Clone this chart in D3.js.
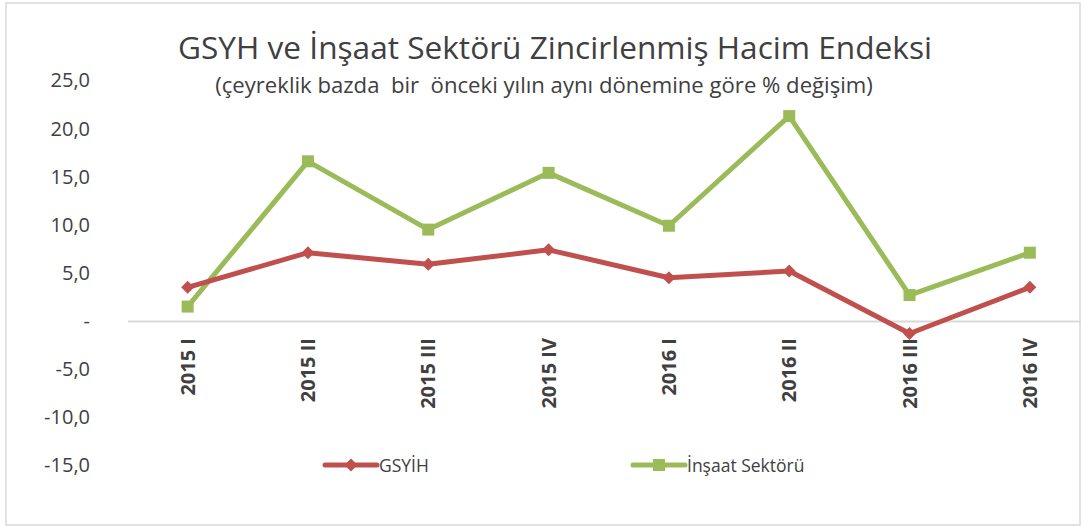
<!DOCTYPE html>
<html>
<head>
<meta charset="utf-8">
<script src="https://cdn.jsdelivr.net/npm/d3@7"></script>
<style>
  html, body { margin: 0; padding: 0; background: #ffffff; }
  svg { display: block; font-family: "Open Sans", "Noto Sans", sans-serif; }
</style>
</head>
<body>
<div id="chart"></div>
<script>
// Data
const quarters = ["2015 I", "2015 II", "2015 III", "2015 IV", "2016 I", "2016 II", "2016 III", "2016 IV"];
const gsyhValues = [3.5, 7.1, 5.9, 7.4, 4.5, 5.2, -1.3, 3.5];
const insaatValues = [1.5, 16.6, 9.5, 15.4, 9.9, 21.3, 2.7, 7.1];
const yTicks = [-15, -10, -5, 0, 5, 10, 15, 20, 25];
const seriesNames = ["GSYİH", "İnşaat Sektörü"];

const width = 1081;
const height = 526;
const textColor = "#404040";
const redColor = "#c0504d";
const greenColor = "#9bbb59";

const svg = d3.select("#chart")
    .append("svg")
    .attr("width", width)
    .attr("height", height);

// Chart border
svg.append("rect")
    .attr("x", 6)
    .attr("y", 3)
    .attr("width", 1074)
    .attr("height", 522)
    .attr("fill", "#ffffff")
    .attr("stroke", "#d9d9d9")
    .attr("stroke-width", 1.5);

// Scales
const xScale = d3.scaleBand()
    .domain(quarters)
    .range([127.5, 1090])
    .padding(0);

const yScale = d3.scaleLinear()
    .domain([-15, 25])
    .range([465.3, 80.5]);

const xPos = d => xScale(d) + xScale.bandwidth() / 2;
const fmt = v => v === 0 ? "-" : v.toFixed(1).replace(".", ",");

// shrink / grow a text so it fills the width seen in the picture
const fitText = (sel, target) => {
    const size = parseFloat(sel.style("font-size"));
    const len = sel.node().getComputedTextLength();
    sel.style("font-size", (size * target / len) + "px");
};

// Title
const title = svg.append("text")
    .attr("x", 555)
    .attr("y", 59)
    .attr("text-anchor", "middle")
    .style("font-size", "34px")
    .style("fill", textColor)
    .text("GSYH ve İnşaat Sektörü Zincirlenmiş Hacim Endeksi");
fitText(title, 754);

const subtitle = svg.append("text")
    .attr("x", 544)
    .attr("y", 93)
    .attr("text-anchor", "middle")
    .style("font-size", "20px")
    .style("white-space", "pre")
    .style("fill", textColor)
    .text("(çeyreklik bazda  bir  önceki yılın aynı dönemine göre % değişim)");
fitText(subtitle, 658);

// Y axis (labels only)
const yAxis = svg.append("g")
    .attr("transform", "translate(90,0)")
    .call(d3.axisLeft(yScale).tickValues(yTicks).tickSize(0).tickPadding(0).tickFormat(fmt));
yAxis.select(".domain").remove();
yAxis.selectAll("text")
    .style("font-family", "\"Open Sans\", sans-serif")
    .style("font-size", "20px")
    .style("fill", textColor);

// X axis along zero
const xAxis = svg.append("g")
    .attr("transform", `translate(0,${yScale(0)})`)
    .call(d3.axisBottom(xScale).tickSize(0));
xAxis.select(".domain")
    .attr("stroke", "#d9d9d9")
    .attr("stroke-width", 2);
xAxis.selectAll("text")
    .attr("transform", "rotate(-90)")
    .attr("x", -17)
    .attr("y", 0)
    .attr("dy", "0.36em")
    .attr("text-anchor", "end")
    .style("font-family", "\"Open Sans\", sans-serif")
    .style("font-size", "20px")
    .style("font-weight", "bold")
    .style("fill", textColor);

// Lines
const line = d3.line()
    .x((d, i) => xPos(quarters[i]))
    .y(d => yScale(d));

const diamond = "M0,-6.5L6.5,0L0,6.5L-6.5,0Z";

const drawSeries = (values, color, marker) => {
    svg.append("path")
        .datum(values)
        .attr("fill", "none")
        .attr("stroke", color)
        .attr("stroke-width", 5)
        .attr("stroke-linejoin", "round")
        .attr("stroke-linecap", "round")
        .attr("d", line);

    const pts = svg.append("g")
        .selectAll("g")
        .data(values)
        .join("g")
        .attr("transform", (d, i) => `translate(${xPos(quarters[i])},${yScale(d)})`);

    if (marker === "diamond") {
        pts.append("path").attr("d", diamond).attr("fill", color);
    } else {
        pts.append("rect")
            .attr("x", -6).attr("y", -6)
            .attr("width", 12).attr("height", 12)
            .attr("fill", color);
    }
};

drawSeries(insaatValues, greenColor, "square");
drawSeries(gsyhValues, redColor, "diamond");

// Legend
const legendItems = [
    { name: seriesNames[0], color: redColor, marker: "diamond", x: 325 },
    { name: seriesNames[1], color: greenColor, marker: "square", x: 633 }
];

legendItems.forEach(item => {
    const g = svg.append("g").attr("transform", `translate(${item.x},465)`);
    g.append("line")
        .attr("x1", 0).attr("x2", 52)
        .attr("y1", 0).attr("y2", 0)
        .attr("stroke", item.color)
        .attr("stroke-width", 5)
        .attr("stroke-linecap", "round");
    if (item.marker === "diamond") {
        g.append("path").attr("d", diamond).attr("transform", "translate(26,0)").attr("fill", item.color);
    } else {
        g.append("rect").attr("x", 20).attr("y", -6).attr("width", 12).attr("height", 12).attr("fill", item.color);
    }
    g.append("text")
        .attr("x", 54)
        .attr("y", 7)
        .style("font-size", "17.5px")
        .style("fill", textColor)
        .text(item.name);
});
</script>
</body>
</html>
